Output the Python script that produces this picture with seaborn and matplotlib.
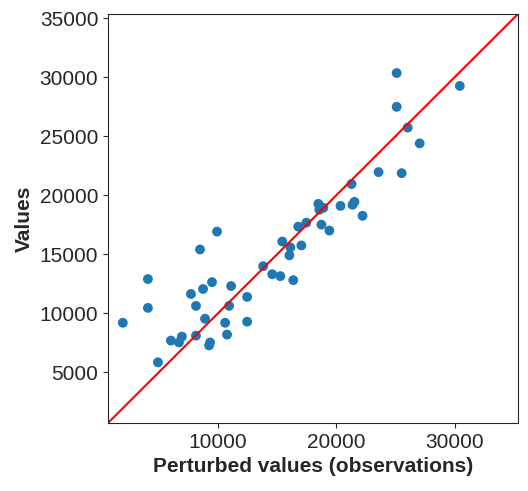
import matplotlib
matplotlib.use("Agg")
import matplotlib.pyplot as plt
import seaborn as sns

perturbed = [1950, 4070, 4070, 4918, 6014, 6696, 6944, 7709, 8133, 8133, 8474, 8733,
             8898, 9239, 9322, 9487, 9911, 10594, 10759, 10935, 11100, 12455, 12455,
             13809, 14574, 15257, 15422, 16022, 16104, 16353, 16776, 17035, 17459, 18472,
             18555, 18730, 18896, 19403, 20343, 21274, 21357, 21522, 22204, 23559, 25089,
             25089, 25513, 26019, 27033, 30424]
values = [9190, 12890, 10450, 5840, 7680, 7520, 8020, 11630, 8100, 10620, 15400, 12050,
          9530, 7270, 7520, 12630, 16910, 9190, 8190, 10620, 12300, 11380, 9280,
          13980, 13300, 13140, 16070, 14900, 15570, 12800, 17330, 15740, 17670, 19260,
          18760, 17500, 18930, 17000, 19090, 20940, 19180, 19430, 18250, 21950, 30340,
          27480, 21860, 25720, 24380, 29250]
lims = (700, 35340)

sns.set_style("ticks")
plt.rcParams['font.family'] = ['Liberation Sans', 'DejaVu Sans']

fig = plt.figure(figsize=(5.28, 4.91), dpi=100)
ax = fig.add_axes([108 / 528, 68 / 491, 410 / 528, 409 / 491])
sns.scatterplot(x=perturbed, y=values, ax=ax, s=50, color='#1f77b4', edgecolor='none')
ax.axline((0, 0), slope=1, color='red', lw=1.5)
ax.set_xlim(lims)
ax.set_ylim(lims)
ax.set_xticks([10000, 20000, 30000])
ax.set_yticks(range(5000, 35001, 5000))
ax.tick_params(labelsize=15)
ax.set_xlabel('Perturbed values (observations)', fontsize=15, fontweight='bold')
ax.set_ylabel('Values', fontsize=15, fontweight='bold')
fig.savefig('out.png', dpi=100)
